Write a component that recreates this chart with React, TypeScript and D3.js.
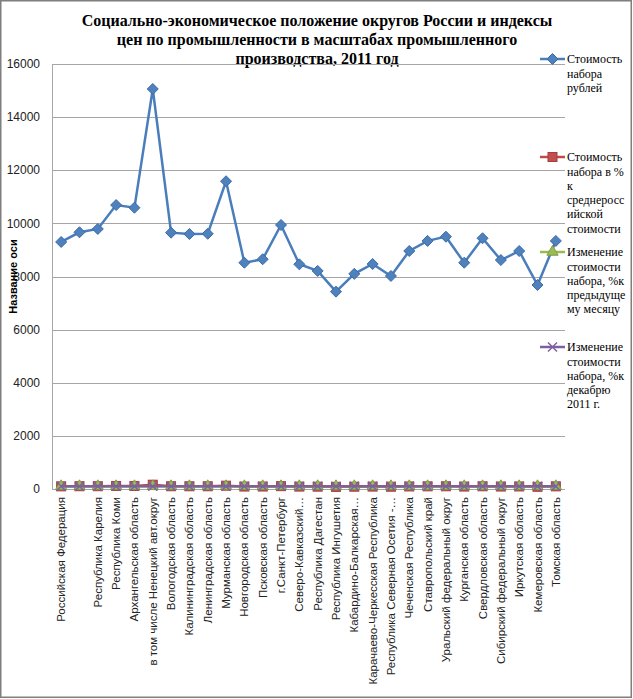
import React from "react";
import * as d3 from "d3";

const categories: string[] = [
  "Российская Федерация",
  "",
  "Республика Карелия",
  "Республика Коми",
  "Архангельская область",
  "в том числе Ненецкий авт.округ",
  "Вологодская область",
  "Калининградская область",
  "Ленинградская область",
  "Мурманская область",
  "Новгородская область",
  "Псковская область",
  "г.Санкт-Петербург",
  "Северо-Кавказский…",
  "Республика Дагестан",
  "Республика Ингушетия",
  "Кабардино-Балкарская…",
  "Карачаево-Черкесская Республика",
  "Республика Северная Осетия -…",
  "Чеченская Республика",
  "Ставропольский край",
  "Уральский федеральный округ",
  "Курганская область",
  "Свердловская область",
  "Сибирский федеральный округ",
  "Иркутская область",
  "Кемеровская область",
  "Томская область",
];

const costRub: number[] = [
  9300, 9665, 9790, 10690, 10590, 15060, 9650, 9600, 9610, 11585, 8520, 8650,
  9940, 8460, 8210, 7430, 8100, 8470, 8020, 8960, 9340, 9500, 8520, 9440, 8620,
  8960, 7680, 9340,
];

const costPctAvg: number[] = [
  100, 104, 105, 115, 114, 162, 104, 103, 103, 125, 92, 93, 107, 91, 88, 80, 87,
  91, 86, 96, 100, 102, 92, 102, 93, 96, 83, 100,
];

const changePrevMonth: number[] = [
  100.4, 100.3, 100.5, 100.2, 100.6, 100.1, 100.4, 100.3, 100.5, 100.2, 100.4,
  100.6, 100.3, 100.2, 100.5, 100.1, 100.4, 100.3, 100.2, 100.6, 100.4, 100.3,
  100.5, 100.2, 100.4, 100.3, 100.5, 100.4,
];

const changeDec: number[] = [
  102.1, 101.8, 102.4, 101.6, 102.2, 101.5, 102.0, 101.9, 102.3, 101.7, 102.1,
  102.5, 101.8, 101.6, 102.2, 101.4, 102.0, 101.9, 101.7, 102.4, 102.1, 101.8,
  102.2, 101.9, 102.0, 101.7, 102.3, 102.1,
];

const yTicks: number[] = [0, 2000, 4000, 6000, 8000, 10000, 12000, 14000, 16000];

const titleLines: string[] = [
  "Социально-экономическое положение округов России и индексы",
  "цен по промышленности в масштабах промышленного",
  "производства, 2011 год",
];

const legendItems = [
  { lines: ["Стоимость", "набора", "рублей"] },
  { lines: ["Стоимость", "набора в %", "к", "среднеросс", "ийской", "стоимости"] },
  { lines: ["Изменение", "стоимости", "набора, %к", "предыдуще", "му месяцу"] },
  { lines: ["Изменение", "стоимости", "набора, %к", "декабрю", "2011 г."] },
];

const W = 633;
const H = 699;
const plot = { left: 52, right: 565, top: 64, bottom: 489 };

const seriesStyles = [
  { color: "#4A7EBB", fill: "#4F81BD", stroke: "#3A6BA8", symbol: "diamond" },
  { color: "#BE4B48", fill: "#C0504D", stroke: "#A33E3B", symbol: "square" },
  { color: "#98B954", fill: "#9BBB59", stroke: "#7F9E42", symbol: "triangle" },
  { color: "#7D60A0", fill: "#8064A2", stroke: "#7D60A0", symbol: "x" },
];

function Marker({ x, y, kind, fill, stroke }: { x: number; y: number; kind: string; fill: string; stroke: string }) {
  if (kind === "diamond") {
    const r = 5.5;
    return (
      <path
        d={`M0,${-r}L${r},0L0,${r}L${-r},0Z`}
        transform={`translate(${x},${y})`}
        fill={fill}
        stroke={stroke}
        strokeWidth={1}
      />
    );
  }
  if (kind === "square") {
    return <rect x={x - 4.5} y={y - 4.5} width={9} height={9} fill={fill} stroke={stroke} strokeWidth={1} />;
  }
  if (kind === "triangle") {
    const p = d3.symbol().type(d3.symbolTriangle).size(55)();
    return <path d={p || ""} transform={`translate(${x},${y})`} fill={fill} stroke={stroke} strokeWidth={1} />;
  }
  const s = 4.5;
  return (
    <g stroke={stroke} strokeWidth={1.5}>
      <line x1={x - s} y1={y - s} x2={x + s} y2={y + s} />
      <line x1={x - s} y1={y + s} x2={x + s} y2={y - s} />
    </g>
  );
}

export default function App() {
  const x = d3
    .scalePoint<number>()
    .domain(d3.range(categories.length))
    .range([plot.left, plot.right])
    .padding(0.5);
  const y = d3.scaleLinear().domain([0, 16000]).range([plot.bottom, plot.top]);

  const allSeries = [costRub, costPctAvg, changePrevMonth, changeDec];
  const line = d3
    .line<number>()
    .x((_, i) => x(i) as number)
    .y((d) => y(d));

  const legendY = [59, 157, 252, 347];
  const legendLineH = 14.3;

  return (
    <div style={{ position: "absolute", left: 0, top: 0 }}>
      <svg width={W} height={H} style={{ display: "block", background: "#fff" }}>
        <rect x={0.75} y={0.75} width={W - 2.5} height={H - 2.5} fill="#fff" stroke="#7f7f7f" strokeWidth={1.5} />

        {/* title */}
        {titleLines.map((t, i) => (
          <text
            key={i}
            x={317}
            y={26 + i * 19}
            textAnchor="middle"
            fontFamily="'Liberation Serif', 'Times New Roman', serif"
            fontWeight="bold"
            fontSize={16}
            fill="#000"
          >
            {t}
          </text>
        ))}

        {/* gridlines */}
        {yTicks.map((t) => (
          <line
            key={t}
            x1={plot.left}
            x2={plot.right}
            y1={Math.round(y(t)) + 0.5}
            y2={Math.round(y(t)) + 0.5}
            stroke="#a6a6a6"
            strokeWidth={1}
          />
        ))}
        <line x1={plot.left + 0.5} x2={plot.left + 0.5} y1={plot.top} y2={plot.bottom} stroke="#a6a6a6" />

        {/* y tick labels */}
        {yTicks.map((t) => (
          <text
            key={t}
            x={40}
            y={y(t)}
            dy="0.35em"
            textAnchor="end"
            fontFamily="'Liberation Sans', Arial, sans-serif"
            fontSize={12}
            fill="#222"
          >
            {t}
          </text>
        ))}

        {/* y axis title */}
        <text
          transform={`translate(13,${(plot.top + plot.bottom) / 2}) rotate(-90)`}
          textAnchor="middle"
          dy="0.35em"
          fontFamily="'Liberation Sans', Arial, sans-serif"
          fontWeight="bold"
          fontSize={11}
          fill="#000"
        >
          Название оси
        </text>

        {/* x labels */}
        {categories.map((c, i) => (
          <text
            key={i}
            transform={`translate(${x(i)},497) rotate(-90)`}
            textAnchor="end"
            dy="0.35em"
            fontFamily="'Liberation Sans', Arial, sans-serif"
            fontSize={11.5}
            fill="#222"
          >
            {c}
          </text>
        ))}

        {/* series */}
        {allSeries.map((s, si) => (
          <g key={si}>
            <path d={line(s) || ""} fill="none" stroke={seriesStyles[si].color} strokeWidth={si === 0 ? 2.5 : 2.5} />
            {s.map((v, i) => (
              <Marker
                key={i}
                x={x(i) as number}
                y={y(v)}
                kind={seriesStyles[si].symbol}
                fill={seriesStyles[si].fill}
                stroke={seriesStyles[si].stroke}
              />
            ))}
          </g>
        ))}

        {/* legend */}
        <rect x={566} y={45} width={63} height={375} fill="#fff" />
        {legendItems.map((item, li) => (
          <g key={li}>
            <line x1={540} x2={565} y1={legendY[li]} y2={legendY[li]} stroke={seriesStyles[li].color} strokeWidth={2.5} />
            <Marker
              x={552.5}
              y={legendY[li]}
              kind={seriesStyles[li].symbol}
              fill={seriesStyles[li].fill}
              stroke={seriesStyles[li].stroke}
            />
            {item.lines.map((t, k) => (
              <text
                key={k}
                x={567}
                y={legendY[li] + k * legendLineH}
                dy="0.35em"
                fontFamily="'Liberation Serif', 'Times New Roman', serif"
                fontSize={12}
                fill="#000"
              >
                {t}
              </text>
            ))}
          </g>
        ))}
      </svg>
    </div>
  );
}
